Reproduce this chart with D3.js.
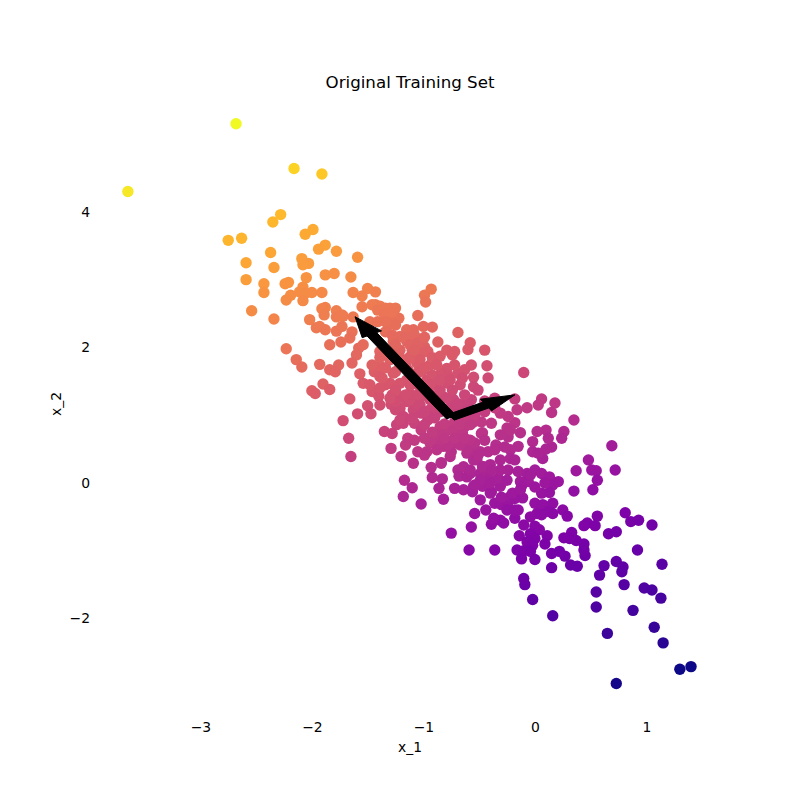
<!DOCTYPE html>
<html>
<head>
<meta charset="utf-8">
<script src="https://cdn.jsdelivr.net/npm/d3@7/dist/d3.min.js"></script>
<style>
    body { margin: 0; background: #fff; }
    text { font-family: "DejaVu Sans", sans-serif; fill: #000; }
</style>
</head>
<body>
<script>
// x_1, x_2
const samples = [
    [-2.68,5.30],[-3.65,4.30],[-2.16,4.64],[-1.91,4.56],[-2.28,3.96],[-2.35,3.85],[-1.99,3.74],[-2.06,3.67],[-1.88,3.51],[-1.94,3.45],
    [-1.78,3.42],[-2.63,3.61],[-2.75,3.58],[-2.37,3.40],[-2.59,3.25],[-2.34,3.18],[-2.09,3.31],[-2.03,3.24],[-2.08,3.22],[-1.59,3.33],
    [-2.59,3.00],[-2.43,2.94],[-2.43,2.81],[-1.88,3.07],[-1.80,3.09],[-1.65,3.04],[-2.05,3.03],[-2.21,2.96],[-2.24,2.94],[-2.08,2.89],
    [-2.19,2.77],[-2.11,2.82],[-2.00,2.81],[-1.91,2.81],[-2.06,2.80],[-2.23,2.70],[-2.08,2.69],[-1.63,2.81],[-2.54,2.54],[-2.34,2.42],
    [-1.88,2.59],[-1.91,2.57],[-1.89,2.48],[-2.02,2.41],[-1.78,2.54],[-1.78,2.45],[-1.72,2.46],[-1.63,2.45],[-1.96,2.29],[-1.93,2.31],
    [-1.88,2.26],[-1.78,2.24],[-1.73,2.31],[-1.64,2.23],[-1.84,2.04],[-1.74,2.08],[-1.66,2.14],[-2.23,1.98],[-2.14,1.82],
    [-0.93,2.86],[-0.99,2.77],[-0.98,2.67],[-1.50,2.87],[-1.43,2.82],[-1.55,2.76],[-1.55,2.60],[-1.43,2.63],[-1.39,2.61],[-1.34,2.58],
    [-1.30,2.58],[-1.25,2.58],[-1.05,2.47],[-1.73,2.48],[-1.48,2.38],[-1.33,2.45],[-1.28,2.41],[-1.22,2.43],[-1.31,2.33],[-1.15,2.26],
    [-1.09,2.26],[-1.00,2.31],[-0.92,2.30],[-0.69,2.22],[-1.21,2.16],[-1.27,2.09],[-1.15,2.09],[-1.08,2.18],[-1.58,1.99],[-1.54,2.04],
    [-0.87,2.08],[-0.58,2.07],[-0.60,1.97],[-0.45,1.96],[-0.79,1.96],[-0.72,1.94],[-0.74,1.89],[-0.99,2.01],[-0.96,1.94],[-1.02,1.91],
    [-1.10,1.96],[-1.21,1.96],[-1.30,1.91],[-1.39,1.94],[-1.60,1.89],[-1.64,1.77],[-1.76,1.74],[-1.84,1.67],[-1.79,1.64],[-1.93,1.75],
    [-2.09,1.71],[-1.57,1.61],[-1.54,1.47],[-1.44,1.64],[-1.39,1.72],[-1.34,1.45],[-1.30,1.47],[-1.39,1.57],[-1.27,1.62],[-1.21,1.72],
    [-1.12,1.86],[-1.06,1.77],[-1.00,1.67],[-0.94,1.74],[-0.79,1.69],[-0.84,1.62],[-0.69,1.62],[-0.57,1.74],[-0.63,1.67],[-0.43,1.73],
    [-0.42,1.55],[-0.55,1.56],[-0.55,1.42],[-0.51,1.37],[-0.57,1.23],[-0.45,1.21],[-0.67,1.45],[-0.78,1.47],[-0.88,1.45],[-0.97,1.52],
    [-1.06,1.62],[-1.15,1.52],[-1.21,1.47],[-1.28,1.30],[-1.21,1.27],[-1.12,1.32],[-1.03,1.25],[-0.94,1.32],[-0.82,1.27],[-0.73,1.23],
    [-1.46,1.35],[-1.40,1.28],[-2.00,1.36],[-1.97,1.32],[-1.90,1.46],[-1.84,1.38],[-1.66,1.24],[-1.50,1.14],[-1.47,1.02],[-1.59,1.02],
    [-1.72,0.92],[-1.67,0.66],[-1.65,0.39],[-1.29,1.16],[-1.25,1.08],[-1.21,1.10],[-1.18,0.98],[-1.09,1.08],[-1.02,1.03],[-0.94,1.08],
    [-1.24,0.86],[-1.35,0.76],[-1.28,0.73],[-1.14,0.66],[-1.18,0.88],[-1.08,0.88],[-1.02,0.78],[-0.96,0.93],[-0.85,0.83],[-0.78,0.78],
    [-0.70,0.76],[-0.63,0.83],[-0.55,0.90],[-0.48,0.73],[-0.34,0.54],[-1.29,0.51],[-1.20,0.39],[-1.09,0.29],[-0.84,0.29],[-1.05,0.46],
    [-0.94,0.59],[-0.82,0.54],[-0.70,0.63],[-0.88,0.71],[-0.97,0.46],[-0.76,0.39],[-0.61,0.44],[-0.49,0.46],[-0.64,0.24],[-0.46,0.24],
    [-0.55,0.34],[-0.58,0.59],[-0.10,1.63],[0.18,1.18],[0.15,1.04],[0.06,1.24],[0.03,1.15],[-0.07,1.11],[-0.16,1.08],[-0.18,1.24],
    [-0.36,1.25],[0.35,0.93],[0.69,0.55],[0.26,0.76],[0.24,0.66],[0.10,0.78],[0.02,0.76],[0.15,0.53],[0.12,0.66],[-0.02,0.61],
    [-0.02,0.46],[0.07,0.36],[0.10,0.50],[0.03,0.44],[-0.13,0.74],[-0.18,0.89],[-0.24,0.98],[-0.31,1.03],[-0.39,0.88],[-0.48,0.90],
    [-0.47,0.74],[-0.25,0.81],[-0.24,0.68],[-0.35,0.56],[-0.36,0.49],[-0.15,0.54],[-0.22,0.49],[-0.22,0.36],[-0.18,0.34],[-0.54,0.49],
    [-0.52,0.34],[-0.61,0.51],[-0.73,0.59],[-0.85,0.59],[-0.94,0.61],[-0.99,0.41],[-0.88,0.49],[-0.75,0.46],[-0.84,0.30],[-0.93,0.23],
    [-0.92,0.08],[-0.83,0.06],[-0.86,-0.08],[-0.72,-0.08],[-0.82,-0.24],[-1.02,-0.31],[-0.64,-0.10],[-0.69,0.19],[-0.68,0.10],[-0.58,0.14],
    [-0.55,-0.05],[-0.47,-0.05],[-0.49,-0.25],[-0.54,-0.45],[-0.44,-0.40],[-0.57,-0.65],[-0.75,-0.74],[-0.59,-0.99],[-0.36,-0.99],[-0.39,-0.61],
    [-0.31,-0.55],[-0.37,-0.52],[-0.28,-0.59],[-0.18,-0.52],[-0.15,-0.40],[-0.10,-0.62],[-0.36,-0.30],[-0.30,-0.32],[-0.24,-0.28],[-0.22,-0.20],
    [-0.18,-0.23],[0.00,-0.30],[-0.39,-0.13],[-0.31,-0.05],[-0.42,0.09],[-0.49,0.14],[-0.49,0.04],[-0.33,0.07],[-0.24,0.19],[-0.15,0.17],
    [-0.07,0.14],[0.00,0.19],[0.06,0.14],[0.13,0.09],[0.21,0.02],[0.16,-0.03],[-0.13,0.02],[-0.06,0.02],[-0.12,-0.05],[0.06,-0.15],
    [0.13,-0.14],[0.35,-0.12],[0.52,-0.10],[0.37,0.18],[0.48,0.34],[0.51,0.19],[0.55,0.18],[0.56,0.04],[0.72,0.19],[0.10,-0.35],
    [0.16,-0.30],[0.07,-0.32],[0.12,-0.42],[0.02,-0.45],[-0.04,-0.50],[0.06,-0.47],[0.16,-0.45],[0.25,-0.40],[0.29,-0.49],[0.56,-0.49],
    [0.47,-0.59],[0.44,-0.63],[0.54,-0.63],[0.66,-0.75],[0.73,-0.72],[0.81,-0.44],[0.86,-0.57],[0.93,-0.55],[1.05,-0.62],[0.92,-0.99],
    [1.14,-1.20],[0.73,-1.16],[0.79,-1.24],[0.78,-1.31],[0.62,-1.22],[0.58,-1.36],[0.80,-1.50],[0.55,-1.61],[0.55,-1.83],[0.98,-1.55],
    [1.05,-1.58],[1.13,-1.70],[0.88,-1.88],[1.07,-2.13],[0.65,-2.22],[1.15,-2.36],[1.30,-2.75],[1.40,-2.71],[0.73,-2.96],[0.16,-1.96],
    [-0.02,-1.72],[-0.09,-1.50],[-0.10,-1.41],[0.15,-1.25],[0.32,-1.21],[0.38,-1.23],[0.27,-1.08],[0.22,-1.01],[0.15,-1.04],[0.45,-1.07],
    [0.44,-0.99],[0.44,-0.90],[0.37,-0.85],[0.33,-0.73],[0.31,-0.82],[0.26,-0.81],[0.11,-0.78],[0.09,-0.90],[0.04,-0.69],[0.00,-0.64],
    [-0.04,-0.75],[0.00,-0.82],[-0.14,-0.78],[-0.07,-0.87],[-0.02,-0.92],[-0.16,-0.99],[-0.10,-1.00],[-0.04,-1.01],[-0.12,-1.12],[0.00,-1.13],
    [-1.17,0.04],[-1.10,-0.07],[-1.18,-0.20],[-0.56,-0.13],[-0.61,0.09],[-0.54,-0.03],[-0.40,-0.15],
    [-0.90,1.15],[-0.85,1.05],[-0.95,0.98],[-0.70,1.05],[-0.62,1.02],[-0.55,1.05],[-0.62,1.18],[-0.88,1.22],[-1.05,1.15],[-1.15,1.20],
    // the dense middle of the cloud
    [-1.46,2.63],[-1.41,2.55],[-1.35,2.49],[-1.28,2.52],[-1.41,2.38],[-1.34,2.38],[-1.25,2.33],[-1.34,2.23],[-1.28,2.18],[-1.16,2.14],
    [-1.25,2.04],[-1.12,2.04],[-1.05,2.07],[-0.99,2.15],[-1.39,1.85],[-1.30,1.82],[-1.21,1.85],[-1.10,1.85],[-1.03,1.82],[-0.92,1.85],
    [-0.85,1.87],[-1.46,1.74],[-1.34,1.70],[-1.25,1.64],[-1.14,1.67],[-1.03,1.64],[-0.92,1.59],[-0.78,1.59],[-0.72,1.74],[-1.48,1.45],
    [-1.39,1.40],[-1.25,1.37],[-1.12,1.45],[-1.05,1.45],[-0.94,1.45],[-0.85,1.37],[-0.74,1.37],[-0.63,1.30],[-1.39,1.15],[-1.25,1.20],
    [-1.12,1.23],[-1.03,1.15],[-0.94,1.23],[-0.85,1.11],[-0.76,1.11],[-0.67,1.05],[-0.58,1.08],[-1.21,0.93],[-1.10,0.96],[-0.99,0.86],
    [-0.90,0.96],[-0.81,0.87],[-0.72,0.90],[-0.63,0.96],[-0.54,1.00],[-0.45,1.05],[-0.36,1.11],[-1.16,0.56],[-1.08,0.63],[-0.99,0.66],
    [-0.78,0.56],[-0.67,0.56],[-0.54,0.59],[-0.45,0.63],[-0.31,0.71],[-0.42,0.46],[-0.31,0.34],[-0.58,0.19],[-0.40,0.27],[-0.31,0.19],
    [-0.73,0.78],[-0.65,0.74],[-0.58,0.63],[-0.51,0.41],[-0.47,0.24],[-0.39,0.19],[-0.40,0.00],[-0.25,0.04],[-0.20,-0.15],[-0.11,-0.22],
    [-0.30,-0.21],[-0.25,-0.40],[-0.18,-0.40],[0.00,-0.06],[0.09,0.00],[-0.13,-0.10],[-0.04,0.12],[-0.27,0.53],[-0.22,0.78],
    [-1.16,1.30],[-0.99,1.05],[-0.88,1.20],[-0.79,1.25],[-0.69,1.17],[-1.05,1.30],[-0.96,1.34],[-0.85,1.52],[-0.76,1.52],[-0.65,1.55],
    [-1.16,1.74],[-1.08,1.96],[-0.99,1.70],[-0.88,1.74],[-0.67,0.86],[-0.58,0.86],[-0.85,0.71],[-0.92,0.75],[-0.81,0.66],[-0.72,0.66],
    [-0.63,0.66],[-1.25,1.89],[-1.37,1.55],[-1.30,1.25]
];

const xTicks = [-3, -2, -1, 0, 1];
const yTicks = [-2, 0, 2, 4];

const xDomain = [-3.9, 1.66];
const yDomain = [-3.38, 5.71];

// mean of the set and the two principal axes
const origin = [-0.75, 0.97];
const components = [[-0.863, 1.483], [0.571, 0.33]];

const margin = { top: 96, right: 80, bottom: 88, left: 100 };
const width = 800, height = 800;

const x = d3.scaleLinear().domain(xDomain).range([margin.left, width - margin.right]);
const y = d3.scaleLinear().domain(yDomain).range([height - margin.bottom, margin.top]);

// colour follows the projection on the first axis
const firstLen = Math.hypot(components[0][0], components[0][1]);
const project = (d) => (d[0] * components[0][0] + d[1] * components[0][1]) / firstLen;
const color = d3.scaleSequential(d3.interpolatePlasma).domain(d3.extent(samples, project));

const svg = d3.select("body").append("svg").attr("width", width).attr("height", height);

svg.append("g")
    .selectAll("circle")
    .data(samples)
    .enter()
    .append("circle")
    .attr("cx", (d) => x(d[0]))
    .attr("cy", (d) => y(d[1]))
    .attr("r", 5.7)
    .attr("fill", (d) => color(project(d)));

// arrow outline is built in data units, so it skews with the axes
const arrowShape = { shaft: 0.1, headWidth: 0.2, headLength: 0.3 };
const arrowPoints = (v) => {
    const len = Math.hypot(v[0], v[1]);
    const ux = v[0] / len, uy = v[1] / len;
    const at = (along, side) => [origin[0] + ux * along - uy * side, origin[1] + uy * along + ux * side];
    const neck = len - arrowShape.headLength;
    const s = arrowShape.shaft / 2, h = arrowShape.headWidth / 2;
    return [at(0, s), at(neck, s), at(neck, h), at(len, 0), at(neck, -h), at(neck, -s), at(0, -s)];
};

svg.append("g")
    .selectAll("path")
    .data(components)
    .enter()
    .append("path")
    .attr("d", (v) => d3.line().x((p) => x(p[0])).y((p) => y(p[1]))(arrowPoints(v)) + "Z")
    .attr("fill", "#000")
    .attr("stroke", "#000")
    .attr("stroke-width", 1);

const tickText = d3.format("d");
const xAxis = svg.append("g")
    .attr("transform", "translate(0," + (height - margin.bottom) + ")")
    .call(d3.axisBottom(x).tickValues(xTicks).tickFormat(tickText).tickSize(0).tickPadding(10));
const yAxis = svg.append("g")
    .attr("transform", "translate(" + margin.left + ",0)")
    .call(d3.axisLeft(y).tickValues(yTicks).tickFormat(tickText).tickSize(0).tickPadding(10));

[xAxis, yAxis].forEach((axis) => {
    axis.select(".domain").remove();
    axis.selectAll("text").style("font-family", '"DejaVu Sans", sans-serif').style("font-size", "13.9px");
});

svg.append("text")
    .attr("x", (margin.left + width - margin.right) / 2)
    .attr("y", 88)
    .attr("text-anchor", "middle")
    .style("font-size", "16.67px")
    .text("Original Training Set");

svg.append("text")
    .attr("x", (margin.left + width - margin.right) / 2)
    .attr("y", 752)
    .attr("text-anchor", "middle")
    .style("font-size", "13.9px")
    .text("x_1");

svg.append("text")
    .attr("transform", "translate(61," + (height - margin.bottom + margin.top) / 2 + ") rotate(-90)")
    .attr("text-anchor", "middle")
    .style("font-size", "13.9px")
    .text("x_2");
</script>
</body>
</html>
